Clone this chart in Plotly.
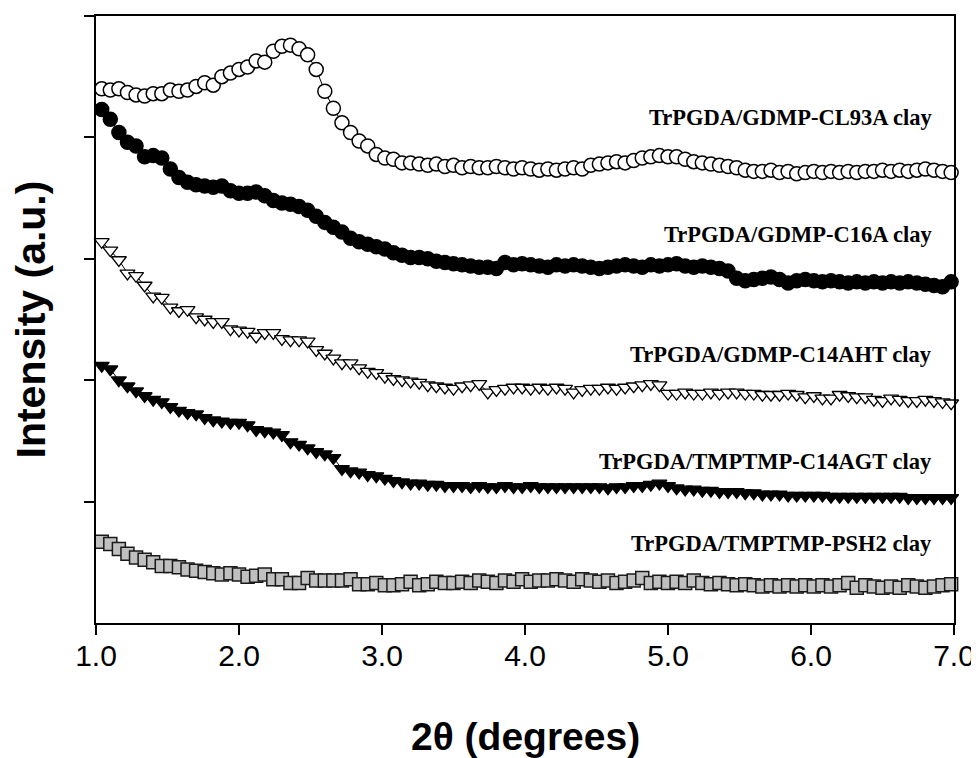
import plotly.graph_objects as go

X = [1.04, 1.10, 1.16, 1.22, 1.28, 1.34, 1.40, 1.46, 1.52, 1.58,
     1.64, 1.70, 1.76, 1.82, 1.88, 1.94, 2.00, 2.06, 2.12, 2.18,
     2.24, 2.30, 2.36, 2.42, 2.48, 2.54, 2.60, 2.66, 2.72, 2.78,
     2.84, 2.90, 2.96, 3.02, 3.08, 3.14, 3.20, 3.26, 3.32, 3.38,
     3.44, 3.50, 3.56, 3.62, 3.68, 3.74, 3.80, 3.86, 3.92, 3.98,
     4.04, 4.10, 4.16, 4.22, 4.28, 4.34, 4.40, 4.46, 4.52, 4.58,
     4.64, 4.70, 4.76, 4.82, 4.88, 4.94, 5.00, 5.06, 5.12, 5.18,
     5.24, 5.30, 5.36, 5.42, 5.48, 5.54, 5.60, 5.66, 5.72, 5.78,
     5.84, 5.90, 5.96, 6.02, 6.08, 6.14, 6.20, 6.26, 6.32, 6.38,
     6.44, 6.50, 6.56, 6.62, 6.68, 6.74, 6.80, 6.86, 6.92, 6.98]

CL93A = [4.40, 4.39, 4.40, 4.37, 4.35, 4.34, 4.36, 4.36, 4.39,
         4.38, 4.39, 4.42, 4.45, 4.43, 4.50, 4.53, 4.56, 4.58, 4.63,
         4.62, 4.71, 4.75, 4.76, 4.73, 4.68, 4.56, 4.38, 4.24, 4.12,
         4.04, 3.97, 3.93, 3.86, 3.83, 3.82, 3.79, 3.79, 3.78, 3.77,
         3.78, 3.76, 3.77, 3.75, 3.76, 3.75, 3.75, 3.76, 3.75, 3.74,
         3.75, 3.74, 3.73, 3.74, 3.73, 3.74, 3.75, 3.74, 3.77, 3.78,
         3.79, 3.80, 3.79, 3.81, 3.83, 3.84, 3.85, 3.84, 3.84, 3.82,
         3.80, 3.79, 3.78, 3.77, 3.76, 3.75, 3.73, 3.72, 3.72, 3.73,
         3.71, 3.72, 3.70, 3.71, 3.72, 3.71, 3.72, 3.71, 3.72, 3.71,
         3.72, 3.72, 3.73, 3.72, 3.73, 3.72, 3.73, 3.74, 3.73, 3.72,
         3.71]

C16A = [4.23, 4.15, 4.04, 3.96, 3.93, 3.84, 3.85, 3.83, 3.74,
        3.67, 3.63, 3.61, 3.60, 3.59, 3.60, 3.56, 3.54, 3.54, 3.55,
        3.52, 3.48, 3.46, 3.45, 3.43, 3.40, 3.35, 3.30, 3.26, 3.22,
        3.17, 3.14, 3.12, 3.10, 3.08, 3.05, 3.03, 3.01, 3.01, 3.00,
        2.98, 2.97, 2.96, 2.95, 2.94, 2.93, 2.93, 2.92, 2.97, 2.95,
        2.96, 2.95, 2.94, 2.93, 2.95, 2.94, 2.95, 2.94, 2.93, 2.92,
        2.93, 2.94, 2.95, 2.94, 2.93, 2.95, 2.94, 2.95, 2.96, 2.94,
        2.93, 2.94, 2.93, 2.92, 2.90, 2.84, 2.82, 2.83, 2.84, 2.85,
        2.83, 2.80, 2.82, 2.83, 2.82, 2.81, 2.82, 2.81, 2.80, 2.81,
        2.80, 2.81, 2.80, 2.81, 2.80, 2.81, 2.80, 2.79, 2.78, 2.77,
        2.81]

C14AHT = [3.14, 3.07, 2.99, 2.88, 2.86, 2.78, 2.69, 2.68, 2.60,
          2.57, 2.58, 2.52, 2.50, 2.48, 2.48, 2.42, 2.41, 2.40, 2.36,
          2.39, 2.39, 2.34, 2.33, 2.33, 2.32, 2.25, 2.22, 2.18, 2.14,
          2.14, 2.10, 2.07, 2.06, 2.03, 2.01, 2.00, 1.99, 1.98, 1.96,
          1.95, 1.94, 1.93, 1.95, 1.96, 1.97, 1.90, 1.92, 1.93, 1.94,
          1.94, 1.93, 1.94, 1.93, 1.94, 1.93, 1.90, 1.92, 1.93, 1.93,
          1.94, 1.93, 1.94, 1.95, 1.96, 1.97, 1.96, 1.89, 1.89, 1.90,
          1.89, 1.89, 1.90, 1.89, 1.90, 1.90, 1.89, 1.89, 1.88, 1.88,
          1.88, 1.89, 1.88, 1.86, 1.87, 1.85, 1.85, 1.88, 1.87, 1.86,
          1.86, 1.84, 1.83, 1.85, 1.84, 1.83, 1.83, 1.84, 1.83, 1.82,
          1.81]

C14AGT = [2.12, 2.09, 2.00, 1.95, 1.91, 1.87, 1.84, 1.82, 1.78,
          1.75, 1.73, 1.72, 1.69, 1.67, 1.66, 1.65, 1.65, 1.63, 1.59,
          1.58, 1.57, 1.55, 1.49, 1.47, 1.44, 1.41, 1.39, 1.36, 1.27,
          1.25, 1.24, 1.22, 1.21, 1.19, 1.17, 1.16, 1.15, 1.15, 1.14,
          1.14, 1.13, 1.13, 1.13, 1.12, 1.13, 1.12, 1.12, 1.13, 1.12,
          1.12, 1.13, 1.12, 1.12, 1.12, 1.12, 1.12, 1.12, 1.12, 1.12,
          1.11, 1.12, 1.12, 1.13, 1.13, 1.14, 1.15, 1.13, 1.11, 1.10,
          1.10, 1.09, 1.09, 1.08, 1.08, 1.08, 1.07, 1.07, 1.06, 1.06,
          1.06, 1.05, 1.05, 1.05, 1.05, 1.05, 1.04, 1.04, 1.04, 1.04,
          1.04, 1.04, 1.04, 1.04, 1.04, 1.03, 1.03, 1.03, 1.03, 1.03,
          1.03]

PSH2 = [0.67, 0.65, 0.61, 0.57, 0.54, 0.52, 0.50, 0.47, 0.47,
        0.46, 0.44, 0.43, 0.42, 0.41, 0.40, 0.41, 0.40, 0.38, 0.39,
        0.40, 0.36, 0.36, 0.33, 0.33, 0.37, 0.35, 0.35, 0.35, 0.35,
        0.36, 0.32, 0.32, 0.33, 0.31, 0.31, 0.32, 0.34, 0.31, 0.32,
        0.34, 0.33, 0.33, 0.34, 0.33, 0.35, 0.34, 0.33, 0.35, 0.34,
        0.36, 0.34, 0.35, 0.35, 0.36, 0.35, 0.34, 0.36, 0.35, 0.34,
        0.35, 0.33, 0.34, 0.35, 0.37, 0.33, 0.34, 0.33, 0.34, 0.33,
        0.35, 0.33, 0.32, 0.33, 0.32, 0.31, 0.32, 0.31, 0.30, 0.31,
        0.30, 0.31, 0.30, 0.31, 0.30, 0.31, 0.30, 0.31, 0.33, 0.29,
        0.31, 0.30, 0.29, 0.30, 0.29, 0.31, 0.30, 0.29, 0.30, 0.31,
        0.32]

LABELS = ["TrPGDA/GDMP-CL93A clay", "TrPGDA/GDMP-C16A clay",
          "TrPGDA/GDMP-C14AHT clay", "TrPGDA/TMPTMP-C14AGT clay",
          "TrPGDA/TMPTMP-PSH2 clay"]
LABEL_Y = [4.16, 3.20, 2.21, 1.33, 0.655]
LABEL_X = 6.86

X_TICKS = [1, 2, 3, 4, 5, 6, 7]
X_TICKTEXT = ["1.0", "2.0", "3.0", "4.0", "5.0", "6.0", "7.0"]
Y_TICKS = [1, 2, 3, 4, 5]

fig = go.Figure()

styles = [
    (CL93A, dict(symbol="circle", size=14, color="white", line=dict(color="black", width=1.5))),
    (C16A, dict(symbol="circle", size=14, color="black", line=dict(color="black", width=1.5))),
    (C14AHT, dict(symbol="triangle-down", size=13, color="white", line=dict(color="black", width=1.3))),
    (C14AGT, dict(symbol="triangle-down", size=13, color="black", line=dict(color="black", width=1.3))),
    (PSH2, dict(symbol="square", size=13, color="#c0c0c0", line=dict(color="#1a1a1a", width=1.5))),
]

for (ys, mk), name in zip(styles, LABELS):
    fig.add_trace(go.Scatter(x=X, y=ys, mode="lines+markers", name=name,
                             line=dict(color="black", width=1),
                             marker=mk, showlegend=False, cliponaxis=False))

for name, ly in zip(LABELS, LABEL_Y):
    fig.add_annotation(x=LABEL_X, y=ly, text="<b>" + name + "</b>", showarrow=False,
                       xanchor="right", yanchor="middle",
                       font=dict(family="Liberation Serif", size=22.5, color="black"))

# axis titles as paper-anchored annotations
fig.add_annotation(x=0, y=0.5, xref="paper", yref="paper", xshift=-66,
                   text="<b>Intensity (a.u.)</b>", textangle=-90, showarrow=False,
                   xanchor="center", yanchor="middle",
                   font=dict(family="Liberation Sans", size=41, color="black"))
fig.add_annotation(x=0.5, y=0, xref="paper", yref="paper", yshift=-113,
                   text="<b>2θ (degrees)</b>", showarrow=False,
                   xanchor="center", yanchor="middle",
                   font=dict(family="Liberation Sans", size=39, color="black"))

fig.update_layout(
    width=979, height=758,
    margin=dict(l=88, r=33, t=8, b=143, autoexpand=False),
    plot_bgcolor="white", paper_bgcolor="white",
    font=dict(family="Liberation Sans", color="black"),
)
fig.update_xaxes(range=[1, 7], tickvals=X_TICKS, ticktext=X_TICKTEXT,
                 ticks="outside", ticklen=10, tickwidth=1.5, tickcolor="black",
                 showline=True, linecolor="black", linewidth=1.5, mirror=True,
                 showgrid=False, zeroline=False, automargin=False,
                 ticklabelstandoff=-5,
                 tickfont=dict(family="Liberation Sans", size=30))
fig.update_yaxes(range=[0, 5], tickvals=Y_TICKS, showticklabels=False,
                 ticks="outside", ticklen=10, tickwidth=1.5, tickcolor="black",
                 showline=True, linecolor="black", linewidth=1.5, mirror=True,
                 showgrid=False, zeroline=False, automargin=False)

fig.write_html("out.html")
